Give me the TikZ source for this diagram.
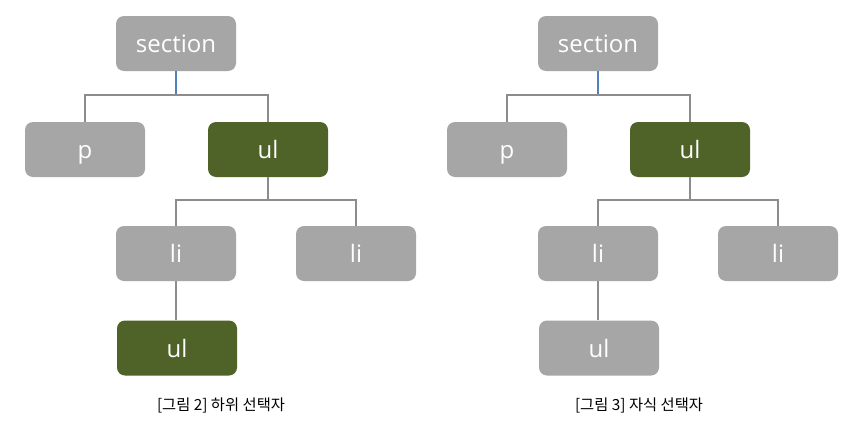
\documentclass[tikz,border=0pt]{standalone}
\usepackage{fontspec}
\setmainfont{Open Sans}
\newfontfamily\krfont{Noto Sans CJK KR}
\definecolor{boxgrey}{HTML}{A6A6A6}
\definecolor{boxgreen}{HTML}{4F6228}
\definecolor{linegrey}{HTML}{8C8C8C}
\definecolor{lineblue}{HTML}{4F81BD}
\begin{document}
\begin{tikzpicture}[x=0.75pt,y=-0.75pt,
  tbox/.style={rectangle,rounded corners=6pt,minimum width=90pt,minimum height=41.25pt,
    text=white,font=\fontsize{18}{20}\selectfont,inner sep=0pt,text height=15pt,text depth=1.5pt},
  greybox/.style={tbox,fill=boxgrey},
  greenbox/.style={tbox,fill=boxgreen},
  conn/.style={draw=linegrey,line width=1.5pt},
  connblue/.style={draw=lineblue,line width=1.5pt},
  captext/.style={font=\krfont\fontsize{11.5}{13}\selectfont,text=black}]
\useasboundingbox (0,0) rectangle (852,421);
\fill[white] (0,0) rectangle (852,421);
% left tree
\node[greybox] (s1) at (176,43.5) {section};
\node[greybox] (p1) at (85,149.5) {p};
\node[greenbox] (u1) at (268,149.5) {ul};
\node[greybox] (la1) at (176,253.5) {li};
\node[greybox] (lb1) at (356,253.5) {li};
\node[greenbox] (uu1) at (177,348) {ul};
\coordinate (j1) at (176,95);
\coordinate (k1) at (268,200);
\draw[connblue] (s1.south) -- (j1);
\draw[conn] (p1.north) |- (j1) -| (u1.north);
\draw[conn] (u1.south) -- (k1);
\draw[conn] (la1.north) |- (k1) -| (lb1.north);
\draw[conn] (la1.south) -- (la1.south |- uu1.north);
\node[captext] (c1) at (221,405) {[그림 2] 하위 선택자};
% right tree
\node[greybox] (s2) at (598,43.5) {section};
\node[greybox] (p2) at (507,149.5) {p};
\node[greenbox] (u2) at (690,149.5) {ul};
\node[greybox] (la2) at (598,253.5) {li};
\node[greybox] (lb2) at (778,253.5) {li};
\node[greybox] (uu2) at (599,348) {ul};
\coordinate (j2) at (598,95);
\coordinate (k2) at (690,200);
\draw[connblue] (s2.south) -- (j2);
\draw[conn] (p2.north) |- (j2) -| (u2.north);
\draw[conn] (u2.south) -- (k2);
\draw[conn] (la2.north) |- (k2) -| (lb2.north);
\draw[conn] (la2.south) -- (la2.south |- uu2.north);
\node[captext] (c2) at (639,405) {[그림 3] 자식 선택자};
\end{tikzpicture}
\end{document}
